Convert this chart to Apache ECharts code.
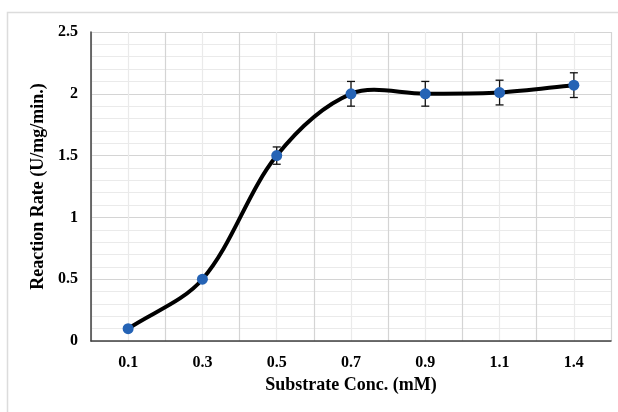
<!DOCTYPE html>
<html>
<head>
<meta charset="utf-8">
<script src="https://cdn.jsdelivr.net/npm/echarts@6/dist/echarts.min.js"></script>
<style>html,body{margin:0;padding:0;background:#fff;}#chart{width:618px;height:412px;}</style>
</head>
<body>
<div id="chart"></div>
<script>
var categories = ['0.1', '0.3', '0.5', '0.7', '0.9', '1.1', '1.4'];
var rates = [0.10, 0.50, 1.50, 2.00, 2.00, 2.01, 2.07];
var errors = [0.00, 0.00, 0.07, 0.10, 0.10, 0.10, 0.10];
var yTicks = ['0', '0.5', '1', '1.5', '2', '2.5'];

var FONT = 'Liberation Serif';
// each category occupies two half-steps on a value axis so boundaries and centres get gridlines
var lineData = categories.map(function (c, i) { return [2 * i + 1, rates[i]]; });
var errData = categories.map(function (c, i) { return [2 * i + 1, rates[i] - errors[i], rates[i] + errors[i]]; })
  .filter(function (d, i) { return errors[i] > 0; });

// Excel-like smoothed curve: Bezier segments through the points, computed in pixel space
function smoothCurve(params, api) {
  if (params.dataIndex !== 0) return null;
  var P = lineData.map(function (d) { return api.coord(d); });
  var n = P.length;
  function dist(a, b) { return Math.sqrt((a[0] - b[0]) * (a[0] - b[0]) + (a[1] - b[1]) * (a[1] - b[1])); }
  var children = [];
  for (var i = 0; i < n - 1; i++) {
    var p0 = P[i], p1 = P[i + 1];
    var d01 = dist(p0, p1);
    var c1, c2;
    if (i === 0) {
      c1 = [p0[0] + (p1[0] - p0[0]) / 3, p0[1] + (p1[1] - p0[1]) / 3];
    } else {
      var pm = P[i - 1], dm = dist(pm, p0);
      var f = d01 / (dm + d01) / 1.5;
      c1 = [p0[0] + (p1[0] - pm[0]) * f * 0.5, p0[1] + (p1[1] - pm[1]) * f * 0.5];
    }
    if (i === n - 2) {
      c2 = [p1[0] - (p1[0] - p0[0]) / 3, p1[1] - (p1[1] - p0[1]) / 3];
    } else {
      var p2 = P[i + 2], d12 = dist(p1, p2);
      var g = d01 / (d01 + d12) / 1.5;
      c2 = [p1[0] - (p2[0] - p0[0]) * g * 0.5, p1[1] - (p2[1] - p0[1]) * g * 0.5];
    }
    children.push({
      type: 'bezierCurve',
      shape: { x1: p0[0], y1: p0[1], cpx1: c1[0], cpy1: c1[1], cpx2: c2[0], cpy2: c2[1], x2: p1[0], y2: p1[1] },
      style: { stroke: '#000', lineWidth: 4, fill: 'none', lineCap: 'round' }
    });
  }
  return { type: 'group', children: children };
}

var chart = echarts.init(document.getElementById('chart'));
chart.setOption({
  backgroundColor: '#fff',
  animation: false,
  graphic: [{
    type: 'rect', silent: true, z: -10,
    shape: { x: 7.5, y: 12.5, width: 640, height: 420 },
    style: { fill: 'none', stroke: '#dcdcdc', lineWidth: 1.5 }
  }],
  grid: { left: 91, right: 7, top: 32, bottom: 71 },
  xAxis: {
    type: 'value', min: 0, max: categories.length * 2, interval: 1,
    name: 'Substrate Conc. (mM)', nameLocation: 'middle', nameGap: 34,
    nameTextStyle: { fontFamily: FONT, fontWeight: 'bold', fontSize: 18, color: '#000' },
    axisLine: { show: true, onZero: false, lineStyle: { color: '#404040', width: 1.5 } },
    axisTick: { show: false },
    axisLabel: {
      margin: 14, fontFamily: FONT, fontWeight: 'bold', fontSize: 16, color: '#000',
      formatter: function (v) { return (v % 2 === 1) ? categories[(v - 1) / 2] : ''; }
    },
    splitLine: { show: true, lineStyle: { color: ['#d4d4d4', '#eaeaea'], width: 1.2 } }
  },
  yAxis: {
    type: 'value', min: 0, max: 2.5, interval: 0.5,
    name: 'Reaction Rate (U/mg/min.)', nameLocation: 'middle', nameGap: 36,
    nameTextStyle: { fontFamily: FONT, fontWeight: 'bold', fontSize: 18, color: '#000' },
    axisLine: { show: true, lineStyle: { color: '#404040', width: 1.5 } },
    axisTick: { show: false },
    axisLabel: {
      margin: 13, fontFamily: FONT, fontWeight: 'bold', fontSize: 16, color: '#000',
      formatter: function (v) { return yTicks[Math.round(v / 0.5)]; }
    },
    splitLine: { show: true, lineStyle: { color: '#d4d4d4', width: 1.2 } },
    minorTick: { show: false, splitNumber: 5 },
    minorSplitLine: { show: true, lineStyle: { color: '#eaeaea', width: 1 } }
  },
  series: [{
    type: 'custom', data: lineData, z: 2,
    renderItem: smoothCurve
  }, {
    type: 'custom', data: errData, z: 3,
    renderItem: function (params, api) {
      var x = api.value(0);
      var lo = api.coord([x, api.value(1)]);
      var hi = api.coord([x, api.value(2)]);
      var cap = 4;
      var st = { stroke: '#111', lineWidth: 1.3 };
      return {
        type: 'group',
        children: [
          { type: 'line', shape: { x1: lo[0], y1: lo[1], x2: hi[0], y2: hi[1] }, style: st },
          { type: 'line', shape: { x1: lo[0] - cap, y1: lo[1], x2: lo[0] + cap, y2: lo[1] }, style: st },
          { type: 'line', shape: { x1: hi[0] - cap, y1: hi[1], x2: hi[0] + cap, y2: hi[1] }, style: st }
        ]
      };
    }
  }, {
    type: 'line', data: lineData, z: 4,
    symbol: 'circle', symbolSize: 11,
    lineStyle: { opacity: 0 },
    itemStyle: { color: '#2563b5' }
  }]
});
</script>
</body>
</html>
